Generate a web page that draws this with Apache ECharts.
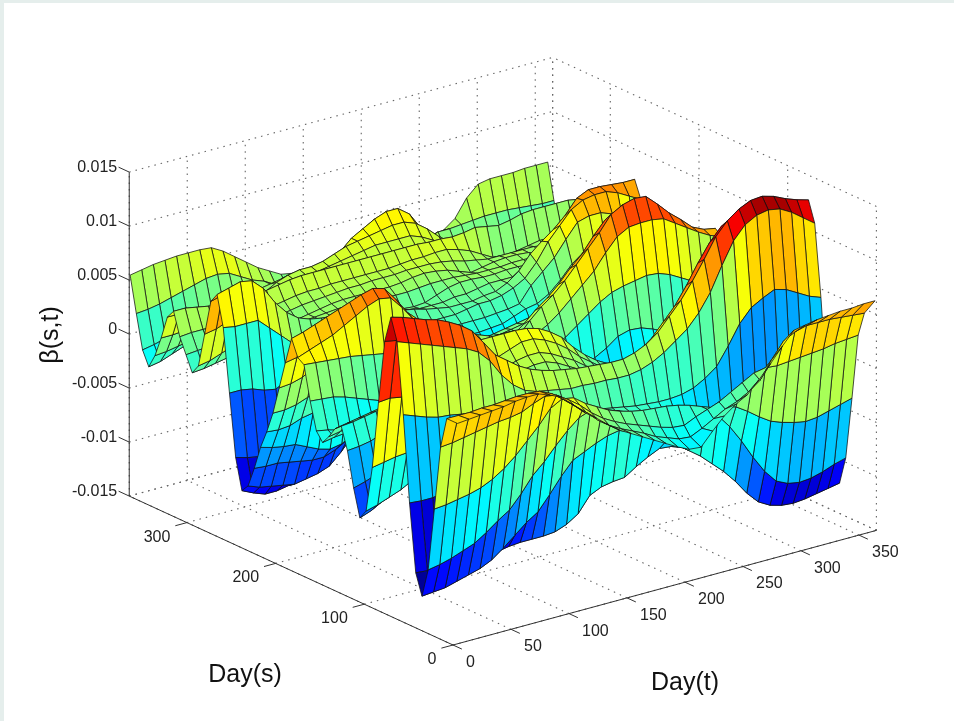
<!DOCTYPE html>
<html><head><meta charset="utf-8"><style>html,body{margin:0;padding:0;background:#fff}#c{width:954px;height:721px}</style>
<script src="https://cdn.jsdelivr.net/npm/echarts@6/dist/echarts.min.js"></script></head><body><div id="c"></div>
<script>
// beta(s,t), in units of 1e-4. One list per Day(s) row, one entry per Day(t) column.
const tDays=[0,10,20,30,40,50,60,70,80,90,100,110,120,130,140,150,160,170,180,190,200,210,220,230,240,250,260,270,280,290,300,310,320,330,340,350,360];
const sDays=[-5,7,14,21,28,35,42,49,56,63,70,77,84,91,98,105,112,119,126,133,140,147,154,161,168,175,182,189,196,203,210,217,224,231,238,245,252,259,266,273,280,287,294,301,308,315,322,329,336,343,350,357,364];
const zS0=[57,58,59,60,61,63,64,64,60,55,45,35,27,18,10,4,-2,-8,-14,-20,-25,-26,-14,-3,5,11,22,34,47,59,61,63,64,65,65,66,66];
const zS7=[57,57,57,58,58,59,60,60,59,54,46,37,28,18,10,4,-1,-6,-12,-16,-20,-21,-16,-10,-4,0,6,14,30,44,50,53,53,53,52,51,50];
const zS14=[28,29,31,33,35,37,38,40,45,49,47,40,32,22,14,8,3,-1,-5,-9,-12,-13,-8,-4,0,6,12,18,20,19,20,21,22,23,25,26,27];
const zS21=[-32,-31,-29,-27,-24,-19,-12,-3,8,19,32,38,36,28,22,16,12,9,7,6,5,3,0,-4,-8,-10,-13,-20,-28,-35,-39,-42,-44,-43,-40,-37,-34];
const zS28=[-91,-89,-86,-82,-78,-71,-63,-56,-44,-30,-20,-8,3,12,16,14,10,6,3,0,-3,-6,-9,-13,-17,-21,-34,-50,-68,-84,-96,-101,-103,-102,-99,-95,-92];
const zS35=[-118,-117,-116,-113,-110,-107,-102,-94,-85,-76,-69,-56,-42,-30,-25,-20,-16,-14,-18,-24,-30,-36,-42,-50,-58,-68,-78,-90,-104,-115,-121,-124,-125,-124,-122,-120,-118];
const zS42=[-99,-100,-101,-102,-103,-103,-102,-100,-98,-97,-97,-97,-96,-92,-85,-71,-66,-64,-63,-56,-50,-45,-46,-50,-56,-64,-72,-82,-94,-106,-114,-117,-118,-116,-112,-106,-100];
const zS49=[-37,-38,-38,-36,-32,-28,-26,-24,-23,-22,-20,-18,-15,-10,-8,-6,-5,-5,-6,-8,-10,-14,-18,-24,-30,-35,-40,-44,-48,-50,-50,-50,-48,-46,-43,-40,-37];
const zS56=[42,38,34,31,30,28,26,23,20,17,14,12,9,6,4,2,0,-2,-4,-6,-8,-9,-10,-10,-9,-6,0,8,24,42,54,60,65,62,56,50,46];
const zS63=[107,103,99,95,91,87,83,77,66,50,38,30,26,24,22,20,20,19,19,18,18,20,24,30,38,46,58,74,96,116,128,134,136,134,128,120,112];
const zS70=[127,124,120,116,113,108,102,94,80,66,58,50,44,40,37,35,33,32,31,30,30,33,38,46,58,70,85,102,120,132,140,145,146,143,138,134,131];
const zS77=[102,100,96,92,88,82,74,62,50,46,42,40,36,34,32,30,28,26,24,22,20,24,30,38,50,62,78,96,112,124,128,130,128,124,118,110,102];
const zS84=[43,44,42,40,36,32,26,20,16,16,18,20,20,20,20,18,16,14,12,10,8,10,14,20,28,38,50,62,72,76,76,72,66,60,54,48,43];
const zS91=[-20,-18,-16,-15,-14,-12,-10,-8,-6,-4,0,4,8,10,12,12,10,8,6,4,2,2,4,8,12,16,22,28,30,28,22,16,8,2,-6,-13,-20];
const zS98=[-63,-60,-56,-52,-46,-40,-34,-28,-22,-16,-8,-2,4,10,14,16,16,14,10,6,2,-2,-4,-4,-4,-4,-4,-6,-10,-16,-24,-32,-40,-46,-52,-58,-63];
const zS105=[-72,-68,-62,-55,-46,-38,-30,-24,-16,-8,0,8,14,20,24,26,26,22,16,10,2,-2,-6,-10,-14,-18,-22,-28,-34,-40,-48,-54,-60,-64,-68,-70,-72];
const zS112=[-47,-44,-40,-34,-28,-22,-16,-10,-4,2,8,14,20,26,30,32,32,28,22,16,8,2,-4,-10,-16,-20,-24,-28,-32,-36,-40,-44,-46,-48,-48,-48,-47];
const zS119=[-15,-14,-12,-8,-4,0,4,8,10,14,18,24,28,34,38,42,42,38,32,24,14,6,-2,-8,-14,-18,-22,-24,-26,-28,-28,-28,-26,-24,-22,-18,-15];
const zS126=[5,6,8,10,12,14,16,18,20,26,34,44,50,50,50,50,49,46,40,32,20,10,2,-4,-10,-14,-18,-20,-20,-20,-18,-16,-12,-8,-4,0,5];
const zS133=[0,2,4,6,8,10,12,14,16,20,26,34,40,44,46,46,44,40,34,26,14,4,-6,-12,-16,-20,-22,-22,-20,-18,-14,-12,-10,-8,-6,-3,0];
const zS140=[-10,-8,-6,-4,-2,0,2,4,6,10,14,20,26,30,32,32,30,26,20,12,2,-8,-16,-22,-26,-28,-28,-26,-24,-20,-16,-14,-12,-12,-12,-11,-10];
const zS147=[-18,-16,-15,-14,-14,-14,-12,-8,-4,0,4,8,12,16,18,18,16,12,6,0,-8,-16,-22,-26,-28,-28,-26,-24,-22,-20,-18,-18,-18,-18,-18,-18,-18];
const zS154=[-10,-12,-15,-18,-20,-20,-18,-14,-10,-6,-2,2,6,8,8,8,6,4,0,-4,-10,-14,-16,-16,-12,-6,2,5,4,0,-5,-7,-8,-9,-10,-10,-10];
const zS161=[15,14,13,10,6,2,-2,-3,-4,-3,-2,0,2,4,6,6,6,4,2,0,0,4,10,18,26,34,40,43,45,47,46,42,36,30,24,20,15];
const zS168=[46,45,44,43,42,40,38,36,33,30,28,24,20,18,16,14,12,10,10,12,16,22,30,40,50,60,74,86,92,93,93,91,84,77,70,64,60];
const zS175=[50,54,58,62,68,74,80,84,82,70,56,44,36,30,26,22,18,14,12,14,26,36,44,54,66,78,90,104,110,113,112,102,91,82,72,67,65];
const zS182=[65,68,72,76,80,84,88,91,88,75,60,50,42,36,30,26,22,18,14,12,20,30,38,48,60,70,84,96,102,100,96,88,78,68,60,55,52];
const zS189=[40,42,46,52,56,60,62,60,52,42,32,26,22,18,16,14,12,10,8,8,10,14,20,26,34,42,50,56,58,58,54,50,46,44,42,41,40];
const zS196=[14,15,18,24,28,32,34,32,28,22,18,14,12,10,8,8,6,6,6,8,10,12,14,18,22,26,30,32,34,32,30,26,24,20,18,16,14];
const zS203=[-12,-12,-10,-6,-2,2,4,4,4,2,2,2,2,2,4,4,4,4,4,6,8,10,12,14,14,14,14,14,12,8,4,0,-2,-6,-8,-10,-12];
const zS210=[-32,-33,-32,-28,-26,-22,-20,-18,-16,-14,-12,-10,-8,-8,-8,-8,-8,-8,-8,-6,-4,-2,0,4,6,4,2,-2,-8,-14,-18,-22,-24,-26,-28,-30,-32];
const zS217=[-49,-52,-54,-55,-60,-65,-68,-66,-60,-52,-44,-36,-28,-24,-22,-20,-20,-20,-20,-18,-16,-14,-10,-6,-4,-6,-10,-16,-22,-28,-32,-36,-38,-40,-42,-45,-49];
const zS224=[-71,-72,-72,-74,-76,-78,-78,-74,-68,-58,-48,-38,-30,-28,-28,-26,-26,-26,-26,-24,-24,-22,-18,-12,-8,-8,-10,-14,-18,-22,-26,-30,-36,-44,-52,-62,-71];
const zS231=[-90,-94,-96,-98,-100,-98,-96,-92,-82,-70,-56,-42,-28,-24,-24,-24,-24,-24,-24,-24,-24,-24,-24,-24,-20,-14,-2,10,14,18,20,18,10,-4,-24,-58,-90];
const zS238=[-97,-102,-106,-106,-104,-100,-98,-92,-86,-74,-60,-44,-32,-26,-24,-24,-24,-24,-24,-24,-24,-24,-24,-22,-20,-16,-10,-2,10,22,28,26,20,0,-24,-64,-97];
const zS245=[-69,-72,-74,-72,-66,-56,-44,-32,-22,-14,-10,-12,-14,-14,-14,-14,-14,-14,-14,-14,-14,-14,-13,-12,-8,-4,-2,4,14,26,34,36,30,14,-10,-40,-69];
const zS252=[-12,-12,-14,-18,-20,-14,-8,-2,0,-2,-2,-2,-2,-6,-6,-6,-6,-6,-6,-6,-6,-6,-6,-5,-4,-2,12,22,32,46,59,62,62,58,44,20,-12];
const zS259=[46,44,44,44,34,24,14,8,4,2,2,2,2,2,0,0,0,0,0,0,0,2,4,4,6,10,16,28,44,56,68,74,76,76,72,66,60];
const zS266=[74,77,80,78,68,52,40,32,28,26,25,23,21,19,17,15,13,11,8,6,4,4,4,6,7,12,20,33,42,50,60,73,78,78,77,76,76];
const zS273=[65,68,72,72,66,50,32,22,18,16,16,15,14,14,14,12,10,8,6,6,6,8,8,10,12,12,12,12,14,14,18,22,30,38,46,54,62];
const zS280=[32,34,38,38,36,30,22,18,16,16,16,16,15,14,12,10,8,6,5,6,10,14,16,16,15,15,16,16,15,14,14,14,16,18,22,28,32];
const zS287=[0,2,6,10,12,14,14,14,14,15,16,17,18,18,17,16,16,16,16,17,18,18,18,17,16,16,16,17,17,16,14,12,10,8,6,3,0];
const zS294=[-9,-8,-6,-4,-2,0,4,8,12,14,16,18,20,21,21,21,21,21,22,24,25,24,22,18,14,16,18,19,19,18,14,10,6,0,-4,-7,-9];
const zS301=[5,6,7,8,10,12,14,16,18,20,22,23,24,25,26,26,27,27,27,28,28,28,27,25,22,20,18,18,18,18,18,16,14,12,10,8,5];
const zS308=[19,20,20,20,20,21,22,23,24,26,28,29,29,30,30,30,30,30,30,31,32,32,33,33,30,26,20,14,12,14,16,18,18,18,18,18,19];
const zS315=[40,40,38,36,34,34,34,35,36,38,40,41,41,41,41,41,41,41,41,41,41,41,40,40,39,40,42,40,38,40,43,44,44,44,44,42,40];
const zS322=[32,32,30,28,26,25,24,24,24,24,25,28,30,31,31,31,32,32,33,33,33,34,34,33,30,24,20,18,18,18,20,24,26,28,30,31,32];
const zS329=[10,10,11,12,12,14,14,16,18,20,20,22,24,26,28,28,28,28,28,30,30,30,30,28,22,16,14,12,12,12,12,12,12,12,12,11,10];
const zS336=[-9,-8,-6,-4,-2,0,2,6,10,14,20,24,26,28,28,30,32,34,36,38,38,38,38,34,28,20,14,10,8,6,4,2,0,-2,-4,-7,-9];
const zS343=[-22,-20,-16,-12,-8,-4,0,4,8,12,18,24,28,30,30,32,36,40,42,44,46,48,48,44,36,26,18,12,10,8,6,2,-2,-6,-12,-18,-22];
const zS350=[-9,-7,-4,0,4,8,10,12,14,16,18,20,22,24,22,22,24,32,42,48,54,58,58,50,34,20,12,10,8,8,8,6,4,2,0,-4,-9];
const zS357=[22,23,25,28,31,34,37,38,36,30,24,20,14,10,10,12,16,22,30,38,46,50,50,42,30,18,22,22,23,24,25,25,25,24,23,22,22];
const zS364=[55,57,59,60,61,61,61,60,54,46,38,30,24,18,16,14,14,14,15,20,26,30,35,34,26,18,16,18,26,42,52,54,54,54,55,55,55];
const zRows=[zS0,zS7,zS14,zS21,zS28,zS35,zS42,zS49,zS56,zS63,zS70,zS77,zS84,zS91,zS98,zS105,zS112,zS119,zS126,zS133,zS140,zS147,zS154,zS161,zS168,zS175,zS182,zS189,zS196,zS203,zS210,zS217,zS224,zS231,zS238,zS245,zS252,zS259,zS266,zS273,zS280,zS287,zS294,zS301,zS308,zS315,zS322,zS329,zS336,zS343,zS350,zS357,zS364];
const sTicks=[0,100,200,300];
const tTicks=[0,50,100,150,200,250,300,350];
const zTicks=[-0.015,-0.01,-0.005,0,0.005,0.01,0.015];
const zTickLabels=['-0.015','-0.01','-0.005','0','0.005','0.01','0.015'];
const sMax=365,tMax=365,zMin=-0.015,zMax=0.015;

// orthographic view of the axes box, expressed in the plane of the hidden 2D axes
const view={ox:453,oy:645,sx:-0.887,sy:-0.408,tx:1.16,ty:-0.314,zy:-10800};
function project(s,t,z){return [view.ox+view.sx*s+view.tx*t, view.oy+view.sy*s+view.ty*t+view.zy*(z-zMin)];}

let lo=Infinity,hi=-Infinity;
zRows.forEach(r=>r.forEach(v=>{if(v<lo)lo=v;if(v>hi)hi=v;}));
function jet(v){
  const q=Math.min(63,Math.floor(Math.max(0,Math.min(1,(v-lo)/(hi-lo)))*64));
  const u=(q+0.5)/64,c=x=>Math.round(255*Math.max(0,Math.min(1,1.5-Math.abs(4*u-x))));
  return 'rgb('+c(3)+','+c(2)+','+c(1)+')';
}
// facets, painted from the far corner to the near one
const facets=[];
for(let i=sDays.length-2;i>=0;i--)for(let j=tDays.length-2;j>=0;j--)facets.push([i,j]);

function segs(){
  const L=[],add=(a,b,k)=>L.push([a[0],a[1],a[2],b[0],b[1],b[2],k]);
  // dotted walls and floor
  tTicks.concat(tMax).forEach(t=>{add([sMax,t,zMin],[sMax,t,zMax],0);add([0,t,zMin],[sMax,t,zMin],0);});
  sTicks.concat(sMax).forEach(s=>{add([s,tMax,zMin],[s,tMax,zMax],0);add([s,0,zMin],[s,tMax,zMin],0);});
  zTicks.forEach(z=>{add([sMax,0,z],[sMax,tMax,z],0);add([0,tMax,z],[sMax,tMax,z],0);});
  // solid axes
  add([0,0,zMin],[sMax,0,zMin],1);add([0,0,zMin],[0,tMax,zMin],1);add([sMax,0,zMin],[sMax,0,zMax],1);
  // ticks
  tTicks.forEach(t=>add([0,t,zMin],[-10,t,zMin],1));
  sTicks.forEach(s=>add([s,0,zMin],[s,-10,zMin],1));
  zTicks.forEach(z=>add([sMax,0,z],[sMax+12,0,z],1));
  return L;
}
function labels(){
  const L=[];
  tTicks.forEach(t=>{const p=project(0,t,zMin);L.push([p[0]+13,p[1]+17.5,String(t),'left']);});
  sTicks.forEach(s=>{const p=project(s,0,zMin);L.push([p[0]-16.5,p[1]+14.5,String(s),'right']);});
  zTicks.forEach((z,i)=>{const p=project(sMax,0,z);L.push([p[0]-12,p[1]-4.5,zTickLabels[i],'right']);});
  return L;
}
const chart=echarts.init(document.getElementById('c'),null,{renderer:'canvas'});
chart.setOption({
  animation:false,backgroundColor:'#fff',
  grid:{left:0,right:0,top:0,bottom:0},
  xAxis:{type:'value',min:0,max:954,show:false},
  yAxis:{type:'value',min:0,max:721,inverse:true,show:false},
  graphic:[
    {type:'rect',shape:{x:0,y:0,width:4,height:721},style:{fill:'#e5eeec'},silent:true},
    {type:'rect',shape:{x:0,y:0,width:954,height:3},style:{fill:'#e5eeec'},silent:true},
    {type:'text',x:245,y:675,style:{text:'Day(s)',font:'25px "Liberation Sans"',fill:'#111',align:'center',verticalAlign:'middle'}},
    {type:'text',x:685,y:683,style:{text:'Day(t)',font:'25px "Liberation Sans"',fill:'#111',align:'center',verticalAlign:'middle'}},
    {type:'text',x:51,y:335,rotation:Math.PI/2,style:{text:'β(s,t)',font:'25px "Liberation Sans"',fill:'#111',align:'center',verticalAlign:'middle'}}
  ],
  series:[
    {type:'custom',coordinateSystem:'cartesian2d',silent:true,clip:false,data:segs(),z:1,progressive:0,
     renderItem:(p,api)=>{
       const k=api.value(6),a=api.coord(project(api.value(0),api.value(1),api.value(2))),b=api.coord(project(api.value(3),api.value(4),api.value(5)));
       return {type:'line',shape:{x1:a[0],y1:a[1],x2:b[0],y2:b[1]},
         style:k?{stroke:'#333',lineWidth:1}:{stroke:'#666',lineWidth:1.1,lineDash:[1.5,5]}};
     }},
    {type:'custom',coordinateSystem:'cartesian2d',silent:true,clip:false,data:facets,z:2,progressive:0,
     renderItem:(p,api)=>{
       const i=api.value(0),j=api.value(1),P=(a,b)=>api.coord(project(sDays[a],tDays[b],zRows[a][b]/1e4));
       return {type:'polygon',shape:{points:[P(i,j),P(i+1,j),P(i+1,j+1),P(i,j+1)]},
         style:{fill:jet(zRows[i][j]),stroke:'#111',lineWidth:0.75,lineJoin:'round'}};
     }},
    {type:'custom',coordinateSystem:'cartesian2d',silent:true,clip:false,data:labels(),z:3,progressive:0,
     dimensions:[{name:'x',type:'number'},{name:'y',type:'number'},{name:'text',type:'ordinal'},{name:'align',type:'ordinal'}],
     renderItem:(p,api)=>{
       const d=labels()[p.dataIndex],c=api.coord([d[0],d[1]]);
       return {type:'text',x:c[0],y:c[1],style:{text:d[2],align:d[3],verticalAlign:'middle',font:'16px "Liberation Sans"',fill:'#222'}};
     }}
  ]
});
</script></body></html>
